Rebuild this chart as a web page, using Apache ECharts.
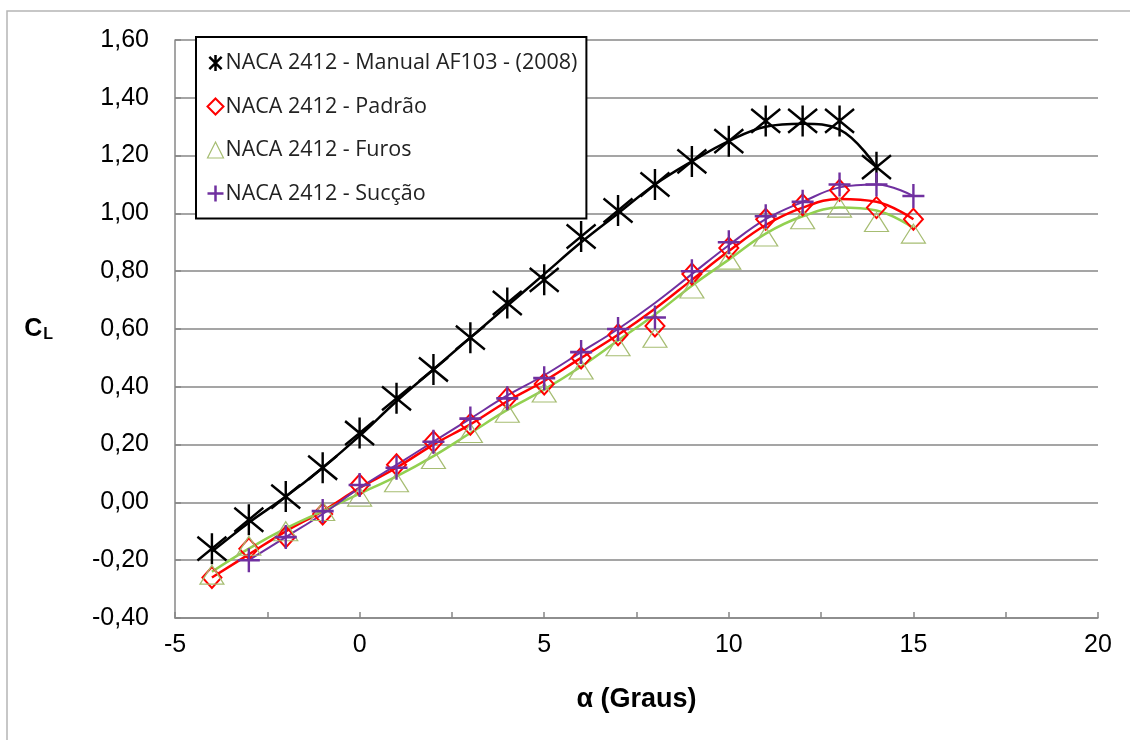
<!DOCTYPE html>
<html>
<head>
<meta charset="utf-8">
<script src="https://cdn.jsdelivr.net/npm/echarts@6/dist/echarts.min.js"></script>
<style>
html,body{margin:0;padding:0;background:#fff;}
#chart{width:1130px;height:740px;}
</style>
</head>
<body>
<div id="chart"></div>
<script>
// pontos medidos: angulo de ataque (graus) x CL
var alphaManual = [-4,-3,-2,-1,0,1,2,3,4,5,6,7,8,9,10,11,12,13,14];
var clManual = [-0.16,-0.06,0.02,0.12,0.24,0.36,0.46,0.57,0.69,0.77,0.92,1.01,1.10,1.18,1.25,1.32,1.32,1.32,1.16];

var alphaPadrao = [-4,-3,-2,-1,0,1,2,3,4,5,6,7,8,9,10,11,12,13,14,15];
var clPadrao = [-0.26,-0.16,-0.12,-0.04,0.06,0.13,0.21,0.27,0.36,0.41,0.50,0.58,0.61,0.79,0.88,0.98,1.03,1.08,1.02,0.98];

var alphaFuros = [-4,-3,-2,-1,0,1,2,3,4,5,6,7,8,9,10,11,12,13,14,15];
var clFuros = [-0.25,-0.15,-0.10,-0.03,0.02,0.07,0.15,0.24,0.31,0.38,0.46,0.54,0.57,0.74,0.84,0.92,0.98,1.02,0.97,0.93];

var alphaSuccao = [-3,-2,-1,0,1,2,3,4,5,6,7,8,9,10,11,12,13,14,15];
var clSuccao = [-0.20,-0.12,-0.03,0.06,0.12,0.21,0.29,0.36,0.43,0.52,0.60,0.64,0.80,0.90,0.99,1.04,1.10,1.10,1.06];

// linhas de tendencia
var tendManual = [-0.17,-0.07,0.02,0.12,0.23,0.35,0.46,0.57,0.68,0.79,0.90,1.00,1.10,1.18,1.25,1.30,1.31,1.29,1.16];
var tendPadrao = [-0.26,-0.18,-0.10,-0.03,0.05,0.12,0.20,0.27,0.35,0.42,0.50,0.58,0.67,0.77,0.87,0.96,1.02,1.05,1.04,0.98];
var tendFuros = [-0.24,-0.16,-0.09,-0.03,0.03,0.09,0.16,0.24,0.32,0.39,0.47,0.56,0.65,0.75,0.84,0.93,0.99,1.02,1.01,0.95];
var tendSuccao = [-0.20,-0.12,-0.04,0.05,0.13,0.21,0.29,0.37,0.44,0.52,0.60,0.69,0.79,0.89,0.98,1.04,1.09,1.10,1.06];

var nomes = ['NACA 2412 - Manual AF103 - (2008)','NACA 2412 - Padrão','NACA 2412 - Furos','NACA 2412 - Sucção'];
var cores = ['#000000','#ff0000','#a6bd72','#7030a0'];
var coresLinha = ['#000000','#ff0000','#92d050','#7030a0'];

function pares(xs, ys){
	var out = [];
	for(var i=0;i<xs.length;i++){
		out.push([xs[i], ys[i]]);
	}
	return out;
}

var simAsterisco = 'path://M0,0L20,20M20,0L0,20M10,-3L10,23';
var simMais = 'path://M10,0L10,20M0,10L20,10';

var myChart = echarts.init(document.getElementById('chart'));

function linha(i, xs, ys, largura){
	return {
		name: nomes[i],
		type: 'line',
		smooth: 0.4,
		showSymbol: false,
		data: pares(xs, ys),
		lineStyle: {color: coresLinha[i], width: largura},
		itemStyle: {color: coresLinha[i]},
		z: 2 + i
	};
}

function pontos(i, xs, ys, simbolo, tam, borda){
	return {
		name: nomes[i],
		type: 'scatter',
		data: pares(xs, ys),
		symbol: simbolo,
		symbolSize: tam,
		itemStyle: {color: 'none', borderColor: cores[i], borderWidth: borda, opacity: 1},
		z: 6 + i
	};
}

var option = {
	backgroundColor: '#fff',
	animation: false,
	textStyle: {fontFamily: 'Liberation Sans'},
	graphic: [{
		type: 'rect',
		shape: {x: 7, y: 11, width: 1140, height: 750},
		style: {fill: 'none', stroke: '#b5b5b5', lineWidth: 1.5}
	}],
	grid: {left: 175, right: 32, top: 40, bottom: 122},
	legend: {
		orient: 'vertical',
		left: 196,
		top: 37,
		backgroundColor: '#fff',
		borderColor: '#000',
		borderWidth: 2,
		borderRadius: 0,
		padding: [15, 9, 14, 9],
		itemGap: 21.5,
		itemWidth: 16,
		itemHeight: 16,
		textStyle: {fontFamily: 'Open Sans', fontSize: 21.5, color: '#222', padding: [0,0,0,-3]},
		data: [
			{name: nomes[0], icon: simAsterisco, itemStyle: {color: 'none', borderColor: '#000', borderWidth: 2.5}},
			{name: nomes[1], icon: 'diamond', itemStyle: {color: 'none', borderColor: '#ff0000', borderWidth: 2}},
			{name: nomes[2], icon: 'triangle', itemStyle: {color: 'none', borderColor: '#a6bd72', borderWidth: 1.2}},
			{name: nomes[3], icon: simMais, itemStyle: {color: 'none', borderColor: '#7030a0', borderWidth: 2.5}}
		]
	},
	xAxis: {
		type: 'value',
		min: -5,
		max: 20,
		interval: 2.5,
		name: 'α (Graus)',
		nameLocation: 'middle',
		nameGap: 68,
		nameTextStyle: {fontFamily: 'Liberation Sans', fontSize: 27, fontWeight: 'bold', color: '#000'},
		axisLine: {onZero: false, lineStyle: {color: '#878787', width: 1.5}},
		axisTick: {inside: true, length: 6, lineStyle: {color: '#878787', width: 1.5}},
		splitLine: {show: false},
		axisLabel: {
			fontFamily: 'Liberation Sans',
			fontSize: 25,
			color: '#000',
			margin: 15,
			formatter: function(v){
				if(v % 5 !== 0) return '';
				return String(v);
			}
		}
	},
	yAxis: {
		type: 'value',
		min: -0.4,
		max: 1.6,
		interval: 0.2,
		name: '{a|C}{b|L}',
		nameLocation: 'middle',
		nameRotate: 0,
		nameGap: 122,
		nameTextStyle: {
			rich: {
				a: {fontFamily: 'Liberation Sans', fontSize: 25, fontWeight: 'bold', color: '#000'},
				b: {fontFamily: 'Liberation Sans', fontSize: 16, fontWeight: 'bold', color: '#000', padding: [12,0,0,1]}
			}
		},
		axisLine: {show: true, onZero: false, lineStyle: {color: '#878787', width: 1.5}},
		axisTick: {show: true, inside: true, length: 6, lineStyle: {color: '#878787', width: 1.5}},
		splitLine: {lineStyle: {color: '#878787', width: 1.5}},
		axisLabel: {
			fontFamily: 'Liberation Sans',
			fontSize: 25,
			color: '#000',
			margin: 26,
			formatter: function(v){
				return v.toFixed(2).replace('.', ',');
			}
		}
	},
	series: [
		linha(0, alphaManual, tendManual, 2.5),
		linha(1, alphaPadrao, tendPadrao, 2.5),
		linha(2, alphaFuros, tendFuros, 2.5),
		linha(3, alphaSuccao, tendSuccao, 2),
		pontos(0, alphaManual, clManual, simAsterisco, [29, 31], 2.5),
		pontos(1, alphaPadrao, clPadrao, 'diamond', [19, 21], 2),
		pontos(2, alphaFuros, clFuros, 'triangle', [24, 19], 1.2),
		pontos(3, alphaSuccao, clSuccao, simMais, [22, 24], 2.5)
	]
};

myChart.setOption(option);
</script>
</body>
</html>
